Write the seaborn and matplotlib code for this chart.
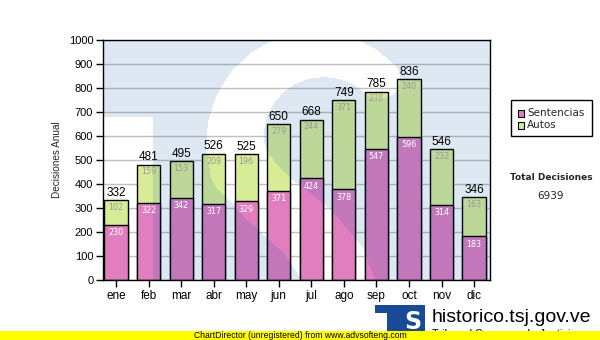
import numpy as np
import pandas as pd
import matplotlib
matplotlib.use("Agg")
import matplotlib.pyplot as plt
from matplotlib.patches import Rectangle
import seaborn as sns

# Monthly decision counts
meses = ["ene", "feb", "mar", "abr", "may", "jun", "jul", "ago", "sep", "oct", "nov", "dic"]
sentencias = [230, 322, 342, 317, 329, 371, 424, 378, 547, 596, 314, 183]
autos = [102, 159, 153, 209, 196, 279, 244, 371, 238, 240, 232, 163]
y_ticks = list(range(0, 1001, 100))

totales = [s + a for s, a in zip(sentencias, autos)]
df = pd.DataFrame({"mes": meses, "sentencias": sentencias, "autos": autos, "total": totales})

PINK = "#e07ec0"
GREEN = "#d8ec98"
W, H = 600, 340

sns.set_theme(style="ticks")
plt.rcParams["font.family"] = ["Liberation Sans", "DejaVu Sans"]

fig = plt.figure(figsize=(W / 100, H / 100), dpi=100)
fig.patch.set_facecolor("white")

# plot area in pixels
L, R, T, B = 103, 490, 40, 280
ax = fig.add_axes([L / W, (H - B) / H, (R - L) / W, (B - T) / H])
ax.set_facecolor("white")

bw = 0.71
sns.barplot(data=df, x="mes", y="total", color=GREEN, saturation=1, width=bw,
            edgecolor="black", linewidth=1, ax=ax, zorder=1)
sns.barplot(data=df, x="mes", y="sentencias", color=PINK, saturation=1, width=bw,
            edgecolor="black", linewidth=1, ax=ax, zorder=1)

ax.set_yticks(y_ticks)
ax.set_yticklabels([str(v) for v in y_ticks], fontsize=8)
ax.tick_params(axis="y", length=5, width=1, pad=2, color="black", labelcolor="black")
ax.tick_params(axis="x", length=5, width=1, pad=2, color="black", labelcolor="black", labelsize=8.5)
ax.set_xlabel("")
ax.set_ylabel("Decisiones Anual", fontsize=7.2, labelpad=5)
ax.yaxis.grid(True, color="#c0c0c0", linewidth=1)
ax.set_axisbelow(True)
for sp in ax.spines.values():
    sp.set_visible(True)
    sp.set_color("black")
    sp.set_linewidth(1)

# faint TS watermark over the plot area: a tinted field with the T cut-out
# and the curved white S stroke left clear
nx, ny = R - L, B - T
X, Y = np.meshgrid(L + np.arange(nx) + 0.5, T + np.arange(ny) + 0.5)
ang = np.radians(np.linspace(45, 200, 12))
cx, cy, rad = 320, 140, 85
stroke = [(cx + rad * np.cos(a), cy - rad * np.sin(a),
           20 + 10 * (k / (len(ang) - 1))) for k, a in enumerate(ang)]
stroke += [(270, 200, 30), (308, 232, 32), (333, 265, 34), (345, 300, 36)]
inside = np.zeros(X.shape, dtype=bool)
for (ax0, ay0, wa), (bx0, by0, wb) in zip(stroke[:-1], stroke[1:]):
    vx, vy = bx0 - ax0, by0 - ay0
    t = np.clip(((X - ax0) * vx + (Y - ay0) * vy) / (vx * vx + vy * vy), 0, 1)
    d = np.hypot(X - (ax0 + t * vx), Y - (ay0 + t * vy))
    inside |= d < (wa + t * (wb - wa))
clear = ((X < 153) & (Y > 118)) | inside
wm = np.zeros((ny, nx, 4))
wm[..., 0], wm[..., 1], wm[..., 2] = 1 / 255, 78 / 255, 155 / 255
wm[..., 3] = np.where(clear, 0.0, 0.13)
ax.imshow(wm, extent=(0, 1, 0, 1), transform=ax.transAxes, aspect="auto",
          interpolation="nearest", zorder=1.5)
ax.set_ylim(0, 1000)
ax.set_xlim(-0.4, 11.49)

# value labels
for i, (s, a, tot) in enumerate(zip(sentencias, autos, totales)):
    ax.annotate(str(tot), (i, tot), xytext=(0, 1), textcoords="offset points",
                ha="center", va="bottom", fontsize=8.5, color="black", zorder=3)
    ax.annotate(str(a), (i, tot), xytext=(0, -2), textcoords="offset points",
                ha="center", va="top", fontsize=5.8, color="#999999",
                family="DejaVu Sans", zorder=3)
    ax.annotate(str(s), (i, s), xytext=(0, -2.5), textcoords="offset points",
                ha="center", va="top", fontsize=5.8, color="white",
                family="DejaVu Sans", zorder=3)

def fx(px):
    return px / W

def fy(py):
    return 1 - py / H

# legend box
fig.patches.append(Rectangle((fx(511), fy(136)), (592 - 511) / W, 36 / H,
                             transform=fig.transFigure, facecolor="white",
                             edgecolor="black", linewidth=1))
for yy, col, lab in [(113.5, PINK, "Sentencias"), (125.5, GREEN, "Autos")]:
    fig.patches.append(Rectangle((fx(518), fy(yy + 3)), 6 / W, 6 / H,
                                 transform=fig.transFigure, facecolor=col,
                                 edgecolor="black", linewidth=0.8))
    fig.text(fx(527), fy(yy), lab, fontsize=7.5, family="DejaVu Sans",
             ha="left", va="center")

fig.text(fx(551), fy(177), "Total Decisiones", fontsize=6.5, fontweight="bold",
         family="DejaVu Sans", ha="center", va="center")
fig.text(fx(551), fy(196), f"{sum(totales)}", fontsize=7.5, family="DejaVu Sans",
         ha="center", va="center")

# site logo and name
fig.patches.append(Rectangle((fx(375), fy(338)), 50 / W, 33 / H,
                             transform=fig.transFigure, facecolor="#1a4a96",
                             edgecolor="none"))
fig.patches.append(Rectangle((fx(375), fy(339)), 12 / W, 26 / H,
                             transform=fig.transFigure, facecolor="white",
                             edgecolor="none"))
fig.text(fx(413), fy(322), "S", fontsize=17, fontweight="bold", color="white",
         ha="center", va="center", family="DejaVu Sans")
fig.text(fx(432), fy(322), "historico.tsj.gov.ve", fontsize=14,
         ha="left", va="baseline", color="black")
fig.text(fx(432), fy(329), "Tribunal Supremo de Justicia", fontsize=8,
         ha="left", va="top", color="black")

# unregistered banner
fig.patches.append(Rectangle((0, 0), 1, 9.5 / H, transform=fig.transFigure,
                             facecolor="#ffff00", edgecolor="none", zorder=5))
fig.text(fx(300), fy(335), "ChartDirector (unregistered) from www.advsofteng.com",
         fontsize=6.2, ha="center", va="center", color="black", zorder=6)

fig.savefig("out.png", dpi=100, facecolor="white")
